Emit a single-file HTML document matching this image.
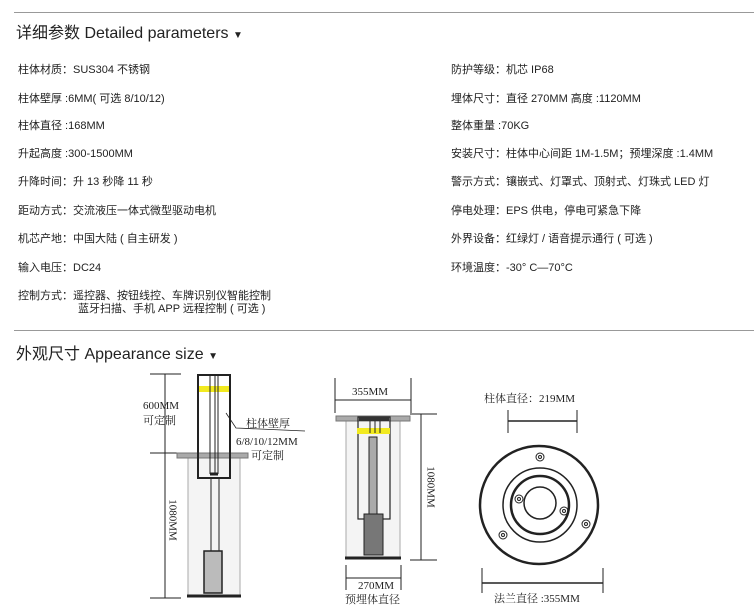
<!DOCTYPE html>
<html><head><meta charset="utf-8"><style>
body{margin:0;width:754px;height:616px;background:#fff;position:relative;overflow:hidden;font-family:"Liberation Sans","Noto Sans CJK SC",sans-serif;color:#222}
.t{position:absolute;font-size:11px;white-space:nowrap}
.h{position:absolute;font-size:16px;color:#222;white-space:nowrap}
.hr{position:absolute;left:14px;right:0;height:1px;background:#999}
svg{position:absolute;left:0;top:0}
svg text{font-family:"Liberation Serif","Noto Serif CJK SC",serif;font-size:11px;fill:#222}
</style></head><body>
<div class="hr" style="top:12px"></div>
<div class="h" style="left:16px;top:19px">详细参数 Detailed parameters <span style="font-size:10px">▼</span></div>
<div class="t" style="left:18px;top:61px">柱体材质：SUS304 不锈钢</div>
<div class="t" style="left:18px;top:90px">柱体壁厚 :6MM( 可选 8/10/12)</div>
<div class="t" style="left:18px;top:117px">柱体直径 :168MM</div>
<div class="t" style="left:18px;top:145px">升起高度 :300-1500MM</div>
<div class="t" style="left:18px;top:173px">升降时间：升 13 秒降 11 秒</div>
<div class="t" style="left:18px;top:202px">距动方式：交流液压一体式微型驱动电机</div>
<div class="t" style="left:18px;top:230px">机芯产地：中国大陆 ( 自主研发 )</div>
<div class="t" style="left:18px;top:259px">输入电压：DC24</div>
<div class="t" style="left:18px;top:287px">控制方式：遥控器、按钮线控、车牌识别仪智能控制</div>
<div class="t" style="left:78px;top:300px">蓝牙扫描、手机 APP 远程控制 ( 可选 )</div>
<div class="t" style="left:451px;top:61px">防护等级：机芯 IP68</div>
<div class="t" style="left:451px;top:90px">埋体尺寸：直径 270MM 高度 :1120MM</div>
<div class="t" style="left:451px;top:117px">整体重量 :70KG</div>
<div class="t" style="left:451px;top:145px">安装尺寸：柱体中心间距 1M-1.5M；预埋深度 :1.4MM</div>
<div class="t" style="left:451px;top:173px">警示方式：镶嵌式、灯罩式、顶射式、灯珠式 LED 灯</div>
<div class="t" style="left:451px;top:202px">停电处理：EPS 供电，停电可紧急下降</div>
<div class="t" style="left:451px;top:230px">外界设备：红绿灯 / 语音提示通行 ( 可选 )</div>
<div class="t" style="left:451px;top:259px">环境温度：-30° C—70°C</div>
<div class="hr" style="top:330px"></div>
<div class="h" style="left:16px;top:340px">外观尺寸 Appearance size <span style="font-size:10px">▼</span></div>
<svg width="754" height="616" viewBox="0 0 754 616">
<g stroke="#222" fill="none" stroke-width="1">
<!-- diagram 1 -->
<line x1="150" y1="374" x2="181" y2="374"/><line x1="150" y1="453" x2="181" y2="453"/><line x1="150" y1="598" x2="181" y2="598"/>
<line x1="165" y1="374" x2="165" y2="598"/>
<rect x="188" y="458" width="52" height="137" stroke="#aaa" fill="#f4f4f4"/>
<rect x="177" y="453" width="71" height="5" fill="#aaa" stroke="#777"/>
<rect x="198" y="375" width="32" height="103" stroke-width="2" fill="none"/>
<rect x="199" y="386" width="30" height="6" fill="#f2ea20" stroke="none"/>
<line x1="210" y1="375" x2="210" y2="474"/><line x1="215" y1="375" x2="215" y2="474"/><line x1="218" y1="375" x2="218" y2="474"/>
<line x1="210" y1="474" x2="218" y2="474" stroke-width="3"/>
<line x1="211" y1="478" x2="211" y2="551"/><line x1="219" y1="478" x2="219" y2="551"/>
<rect x="204" y="551" width="18" height="42" fill="#bbb" stroke="#222" stroke-width="1.5"/>
<line x1="187" y1="596" x2="241" y2="596" stroke-width="3"/>
<polyline points="226,413 236,428 305,431" stroke-width="0.8"/>
<!-- diagram 2 -->
<line x1="335" y1="378" x2="335" y2="413"/><line x1="411" y1="378" x2="411" y2="413"/><line x1="335" y1="400" x2="411" y2="400"/>
<rect x="346" y="421" width="54" height="137" stroke="#aaa" fill="#f4f4f4"/>
<rect x="336" y="416" width="74" height="5" fill="#aaa" stroke="#777"/>
<rect x="358" y="417" width="32" height="102" stroke-width="1.2"/>
<rect x="359" y="417" width="30" height="4" fill="#333" stroke="none"/>
<rect x="357" y="428" width="33" height="6" fill="#f2ea20" stroke="none"/>
<line x1="370" y1="421" x2="370" y2="433"/><line x1="375" y1="421" x2="375" y2="433"/><line x1="380" y1="421" x2="380" y2="433"/>
<rect x="369" y="437" width="8" height="78" fill="#aaa"/>
<rect x="364" y="514" width="19" height="41" fill="#777" stroke="#222"/>
<line x1="345" y1="558" x2="401" y2="558" stroke-width="3"/>
<line x1="410" y1="414" x2="437" y2="414"/><line x1="410" y1="560" x2="437" y2="560"/><line x1="421" y1="414" x2="421" y2="560"/>
<line x1="346" y1="565" x2="346" y2="590"/><line x1="401" y1="565" x2="401" y2="590"/><line x1="346" y1="578" x2="401" y2="578"/>
<!-- diagram 3 -->
<line x1="508" y1="410" x2="508" y2="433"/><line x1="577" y1="410" x2="577" y2="433"/><line x1="508" y1="421" x2="577" y2="421" stroke-width="1.5"/>
<circle cx="539" cy="505" r="59" stroke-width="2.5"/>
<circle cx="540" cy="505" r="37" stroke-width="1.5"/>
<circle cx="540" cy="505" r="29" stroke-width="2.5"/>
<circle cx="540" cy="503" r="16" stroke-width="1.5"/>
<g stroke-width="1"><circle cx="540" cy="457" r="4"/><circle cx="540" cy="457" r="1.5"/>
<circle cx="519" cy="499" r="4"/><circle cx="519" cy="499" r="1.5"/>
<circle cx="564" cy="511" r="4"/><circle cx="564" cy="511" r="1.5"/>
<circle cx="586" cy="524" r="4"/><circle cx="586" cy="524" r="1.5"/>
<circle cx="503" cy="535" r="4"/><circle cx="503" cy="535" r="1.5"/></g>
<line x1="482" y1="568" x2="482" y2="593"/><line x1="603" y1="568" x2="603" y2="593"/><line x1="482" y1="583" x2="603" y2="583" stroke-width="1.5"/>
</g>
<text x="143" y="409">600MM</text><text x="143" y="424">可定制</text>
<text x="172" y="520" transform="rotate(90 172 520)" text-anchor="middle" dominant-baseline="middle">1080MM</text>
<text x="246" y="427">柱体壁厚</text><text x="236" y="445">6/8/10/12MM</text><text x="251" y="459">可定制</text>
<text x="352" y="395">355MM</text>
<text x="430" y="487" transform="rotate(90 430 487)" text-anchor="middle" dominant-baseline="middle">1080MM</text>
<text x="358" y="589">270MM</text><text x="345" y="603">预埋体直径</text>
<text x="484" y="402">柱体直径：219MM</text>
<text x="494" y="602">法兰直径 :355MM</text>
</svg>
</body></html>
